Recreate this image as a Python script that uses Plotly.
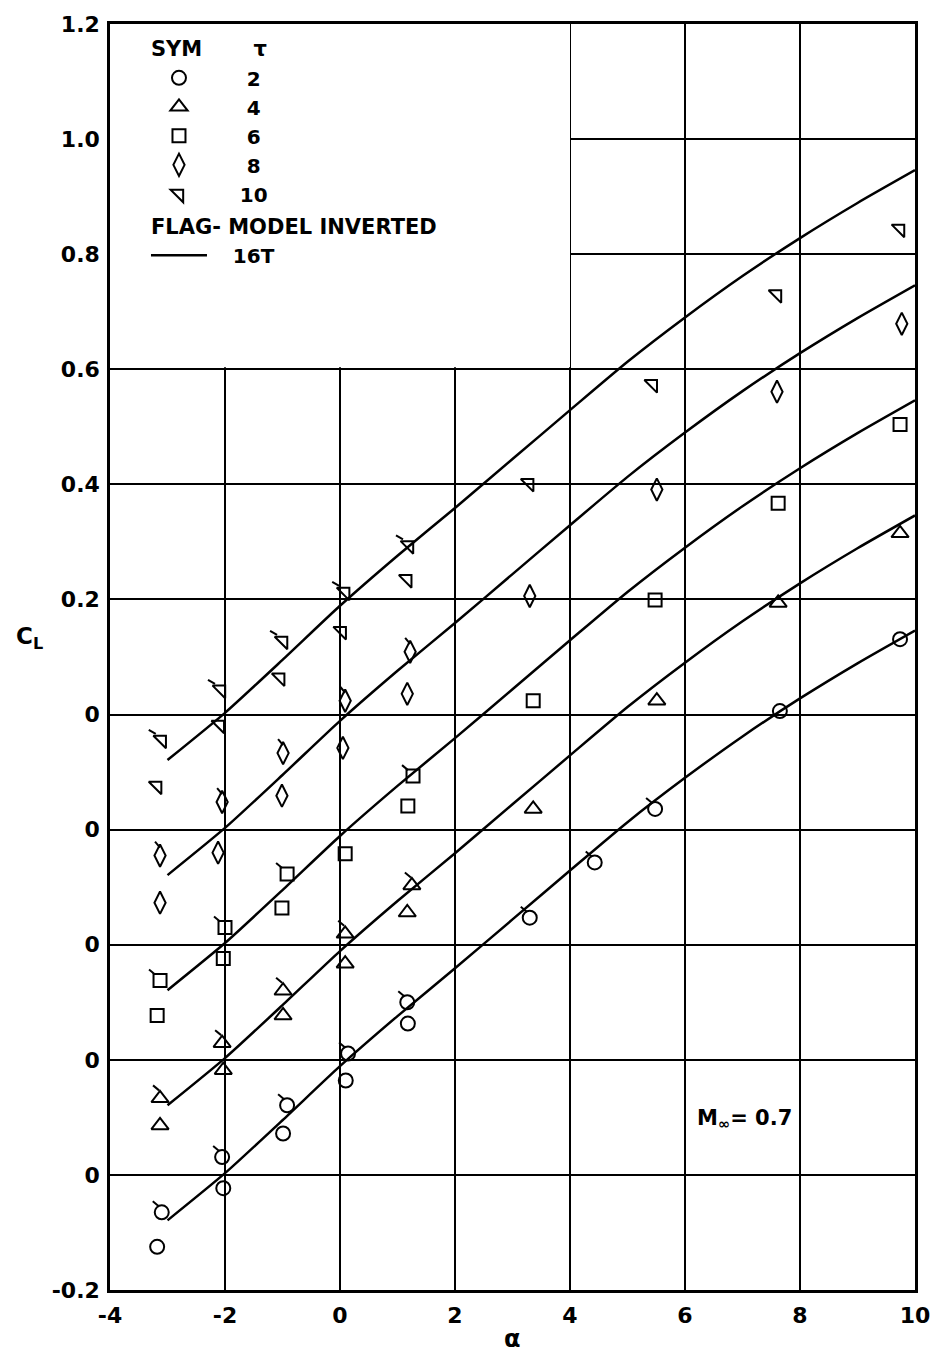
import plotly.graph_objects as go

# ---- 16T tunnel lift curve (same curve for every tau, drawn on its own staggered zero) ----
alpha_16t = [-3.0, -2.0, -1.0, 0.0, 1.0, 2.0, 3.0, 4.0, 5.0, 6.0, 7.0, 8.0, 9.0, 10.0]
cl_16t = [-0.079, 0.003, 0.095, 0.189, 0.276, 0.359, 0.444, 0.529, 0.613, 0.690, 0.762, 0.828, 0.889, 0.946]

tau_values = [2, 4, 6, 8, 10]
stack_offsets = [0.0, 0.2, 0.4, 0.6, 0.8]

# ---- flag-model data, upright model ----
tau2_alpha = [-3.18, -2.03, -0.99, 0.10, 1.18, 7.65, 9.74]
tau2_cl = [-0.125, -0.023, 0.072, 0.164, 0.263, 0.806, 0.931]
tau4_alpha = [-3.13, -2.03, -0.99, 0.09, 1.17, 3.36, 5.51, 7.62, 9.74]
tau4_cl = [-0.114, -0.018, 0.077, 0.167, 0.256, 0.436, 0.624, 0.794, 0.915]
tau6_alpha = [-3.18, -2.03, -1.01, 0.09, 1.18, 3.36, 5.48, 7.62, 9.74]
tau6_cl = [-0.123, -0.024, 0.064, 0.158, 0.241, 0.424, 0.599, 0.767, 0.904]
tau8_alpha = [-3.13, -2.12, -1.01, 0.05, 1.17, 3.30, 5.51, 7.60, 9.77]
tau8_cl = [-0.127, -0.040, 0.059, 0.142, 0.236, 0.406, 0.591, 0.761, 0.879]
tau10_alpha = [-3.18, -2.09, -1.04, 0.03, 1.17, 3.29, 5.44, 7.60, 9.74]
tau10_cl = [-0.124, -0.018, 0.064, 0.145, 0.235, 0.402, 0.574, 0.730, 0.844]

# ---- flag-model data, model inverted (flagged symbols) ----
tau2_inv_alpha = [-3.10, -2.05, -0.92, 0.14, 1.17, 3.30, 4.43, 5.48]
tau2_inv_cl = [-0.065, 0.031, 0.121, 0.211, 0.300, 0.447, 0.543, 0.636]
tau4_inv_alpha = [-3.13, -2.05, -0.99, 0.09, 1.25]
tau4_inv_cl = [-0.067, 0.029, 0.120, 0.219, 0.303]
tau6_inv_alpha = [-3.13, -2.00, -0.92, 1.27]
tau6_inv_cl = [-0.062, 0.030, 0.123, 0.293]
tau8_inv_alpha = [-3.13, -2.05, -0.99, 0.09, 1.22]
tau8_inv_cl = [-0.045, 0.048, 0.133, 0.224, 0.309]
tau10_inv_alpha = [-3.10, -2.07, -0.99, 0.09, 1.20]
tau10_inv_cl = [-0.044, 0.043, 0.128, 0.213, 0.294]

# ---- axis ticks ----
x_tickvals = [-4, -2, 0, 2, 4, 6, 8, 10]
x_ticktext = ["-4", "-2", "0", "2", "4", "6", "8", "10"]
y_tickvals = [-0.2, 0.0, 0.2, 0.4, 0.6, 0.8, 1.0, 1.2, 1.4, 1.6, 1.8, 2.0]
y_ticktext = ["-0.2", "0", "0", "0", "0", "0", "0.2", "0.4", "0.6", "0.8", "1.0", "1.2"]

upright = [(tau2_alpha, tau2_cl), (tau4_alpha, tau4_cl), (tau6_alpha, tau6_cl),
           (tau8_alpha, tau8_cl), (tau10_alpha, tau10_cl)]
inverted = [(tau2_inv_alpha, tau2_inv_cl), (tau4_inv_alpha, tau4_inv_cl),
            (tau6_inv_alpha, tau6_inv_cl), (tau8_inv_alpha, tau8_inv_cl),
            (tau10_inv_alpha, tau10_inv_cl)]

# ---- layout geometry ----
W, H = 943, 1357
ML, MR, MT, MB = 110, 28, 22, 67
X_RANGE = [-4, 10]
Y_RANGE = [-0.2, 2.0]
px_per_x = (W - ML - MR) / (X_RANGE[1] - X_RANGE[0])
px_per_y = (H - MT - MB) / (Y_RANGE[1] - Y_RANGE[0])

FONT = "DejaVu Sans"
INK = "black"
NB = "\u00a0"

symbols = ["circle-open", "triangle-up-open", "square-open", "diamond-tall-open", "triangle-ne-open"]
sizes = [14, 15, 13, 16, 14]
# flag stroke on inverted-model symbols: start/end offsets in pixels (x right, y up)
flag_offsets = [((-3, 6), (-9, 11)), ((-1, 8), (-7, 13)), ((-5, 6), (-11, 11)),
                ((0, 8), (-5, 14)), ((-6, 6), (-13, 10))]
# key labels are pushed right so the numbers sit under the tau heading
key_pad = [5, 5, 5, 5, 4]

fig = go.Figure()

# upright-model symbols (these carry the key)
for i, (tau, off, (a, c)) in enumerate(zip(tau_values, stack_offsets, upright)):
    fig.add_trace(go.Scatter(
        x=a, y=[v + off for v in c], mode="markers", name=NB * key_pad[i] + str(tau),
        legendgroup="sym",
        legendgrouptitle=dict(text="SYM" + NB * 7 + "τ") if i == 0 else None,
        marker=dict(symbol=symbols[i], size=sizes[i], color=INK, line=dict(color=INK, width=2)),
        showlegend=True,
    ))

# 16T curve repeated on every staggered zero
cx, cy = [], []
for off in stack_offsets:
    cx += alpha_16t + [None]
    cy += [v + off for v in cl_16t] + [None]
fig.add_trace(go.Scatter(
    x=cx, y=cy, mode="lines", name=NB * 3 + "16T",
    line=dict(color=INK, width=2.5, shape="spline", smoothing=0.6),
    legendgroup="flag", legendgrouptitle=dict(text="FLAG- MODEL INVERTED"),
))

# inverted-model symbols with their flags
for i, (off, (a, c)) in enumerate(zip(stack_offsets, inverted)):
    ys = [v + off for v in c]
    fig.add_trace(go.Scatter(
        x=a, y=ys, mode="markers", showlegend=False,
        marker=dict(symbol=symbols[i], size=sizes[i], color=INK, line=dict(color=INK, width=2)),
    ))
    (sx, sy), (ex, ey) = flag_offsets[i]
    fx, fy = [], []
    for xa, ya in zip(a, ys):
        fx += [xa + sx / px_per_x, xa + ex / px_per_x, None]
        fy += [ya + sy / px_per_y, ya + ey / px_per_y, None]
    fig.add_trace(go.Scatter(x=fx, y=fy, mode="lines", showlegend=False,
                             line=dict(color=INK, width=2), hoverinfo="skip"))

# blank panel behind the key
fig.add_shape(type="rect", xref="x", yref="y", x0=-4, x1=4, y0=1.4 + 2 / px_per_y, y1=2.0,
              fillcolor="white", line=dict(width=0), layer="between")

axis_common = dict(showgrid=True, gridcolor=INK, gridwidth=2.2, zeroline=False,
                   showline=True, linecolor=INK, linewidth=2.5, mirror=True, ticks="",
                   tickfont=dict(family=FONT, size=22, color=INK, weight="bold"))

fig.update_layout(
    width=W, height=H,
    margin=dict(l=ML, r=MR, t=MT, b=MB),
    paper_bgcolor="white", plot_bgcolor="white",
    xaxis=dict(range=X_RANGE, tickvals=x_tickvals, ticktext=x_ticktext, ticklabelstandoff=4, **axis_common),
    yaxis=dict(range=Y_RANGE, tickvals=y_tickvals, ticktext=y_ticktext, ticklabelstandoff=3, **axis_common),
    legend=dict(x=0.0447, y=0.9968, xanchor="left", yanchor="top", bgcolor="rgba(0,0,0,0)",
                font=dict(family=FONT, size=20, color=INK, weight="bold"),
                grouptitlefont=dict(family=FONT, size=21, color=INK, weight="bold"),
                itemwidth=56, tracegroupgap=2),
    showlegend=True,
    annotations=[
        dict(text="C<sub>L</sub>", xref="paper", yref="paper", x=-0.1, y=0.515,
             xanchor="center", yanchor="middle",
             showarrow=False, font=dict(family=FONT, size=23, color=INK, weight="bold")),
        dict(text="α", xref="paper", yref="paper", x=0.5, y=0, yshift=-49,
             xanchor="center", yanchor="middle",
             showarrow=False, font=dict(family=FONT, size=24, color=INK, weight="bold")),
        dict(text="M<sub>∞</sub>= 0.7", xref="x", yref="y", x=7.04, y=0.098,
             showarrow=False, font=dict(family=FONT, size=21, color=INK, weight="bold")),
    ],
)

fig.write_html("out.html")
